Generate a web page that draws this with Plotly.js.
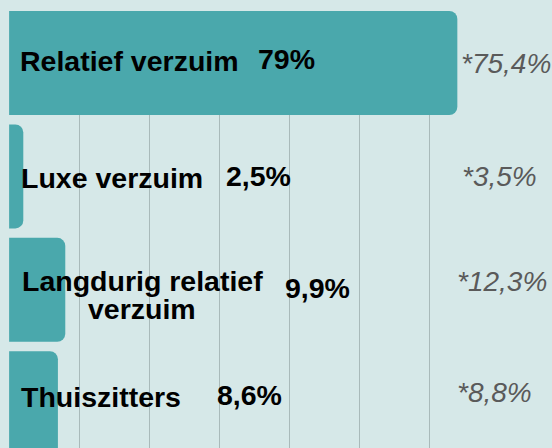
<!DOCTYPE html>
<html>
<head>
<meta charset="utf-8">
<script src="https://cdn.plot.ly/plotly-3.0.1.min.js"></script>
<style>
  html, body { margin: 0; padding: 0; background: #d6e8e8; overflow: hidden; }
  #chart { width: 552px; height: 448px; }
</style>
</head>
<body>
<div id="chart"></div>
<script>
// ---- data ----
const categories = ['Relatief verzuim', 'Luxe verzuim', 'Langdurig relatief<br>verzuim', 'Thuiszitters'];
const values = [79, 2.5, 9.9, 8.6];
const valueLabels = ['79%', '2,5%', '9,9%', '8,6%'];
const benchmarkLabels = ['*75,4%', '*3,5%', '*12,3%', '*8,8%'];

// ---- layout constants (styling/positions) ----
const W = 552, H = 448;
const M = { l: 9, r: 89, t: 11, b: 0 };
const XMAX = 80;
const pxPerUnit = (W - M.l - M.r) / XMAX;
const px2x = px => (px - M.l) / pxPerUnit;

// label placement in pixels (left edge or centre), vertical shifts
const labelPx = [18, 19, 142, 19];
const labelAnchor = ['left', 'left', 'center', 'left'];
const valuePx = [256, 224, 283, 215];
const benchPx = [459, 460, 455, 455];
const labelShift = [2, -2, 0, 6];
const benchShift = [0, 0, 8, 11];

const annotations = [];
categories.forEach((c, i) => {
  const lines = c.split('<br>');
  const lineGap = 28;
  lines.forEach((ln, k) => {
    const off = (k - (lines.length - 1) / 2) * lineGap;
    annotations.push({
      x: px2x(labelPx[i]), y: c, xref: 'x', yref: 'y',
      text: '<b>' + ln + '</b>', showarrow: false,
      xanchor: labelAnchor[i], yanchor: 'middle',
      yshift: labelShift[i] - off + (lines.length > 1 ? -5 : 0),
      font: { family: 'Liberation Sans, Arial, sans-serif', size: 28.5, color: '#000000' }
    });
  });
  annotations.push({
    x: px2x(valuePx[i]), y: c, xref: 'x', yref: 'y',
    text: '<b>' + valueLabels[i] + '</b>', showarrow: false,
    xanchor: 'left', yanchor: 'middle',
    yshift: labelShift[i] + 2,
    font: { family: 'Liberation Sans, Arial, sans-serif', size: 28.5, color: '#000000' }
  });
  annotations.push({
    x: px2x(benchPx[i]), y: c, xref: 'x', yref: 'y',
    text: '<i>' + benchmarkLabels[i] + '</i>', showarrow: false,
    xanchor: 'left', yanchor: 'middle',
    yshift: benchShift[i],
    font: { family: 'Liberation Sans, Arial, sans-serif', size: 28, color: '#5a5a5a' }
  });
});

const trace = {
  type: 'bar',
  orientation: 'h',
  x: values,
  y: categories,
  marker: { color: '#4aa8ac', cornerradius: 8, line: { width: 0 } },
  hoverinfo: 'skip'
};

const layout = {
  width: W, height: H,
  margin: { l: M.l, r: M.r, t: M.t, b: M.b, pad: 0 },
  paper_bgcolor: '#d6e8e8',
  plot_bgcolor: '#d6e8e8',
  bargap: 0.083,
  showlegend: false,
  xaxis: {
    range: [-0.02, XMAX], tick0: 0, dtick: 70 / pxPerUnit,
    showgrid: true, gridcolor: '#a9baba', gridwidth: 1,
    zeroline: false, showline: false, showticklabels: false, ticks: '',
    fixedrange: true
  },
  yaxis: {
    type: 'category', categoryorder: 'array', categoryarray: categories,
    range: [3.395, -0.4585],
    showgrid: false, zeroline: false, showline: false,
    showticklabels: false, ticks: '', fixedrange: true
  },
  annotations: annotations
};

Plotly.newPlot('chart', [trace], layout, { displayModeBar: false, staticPlot: true });
</script>
</body>
</html>
